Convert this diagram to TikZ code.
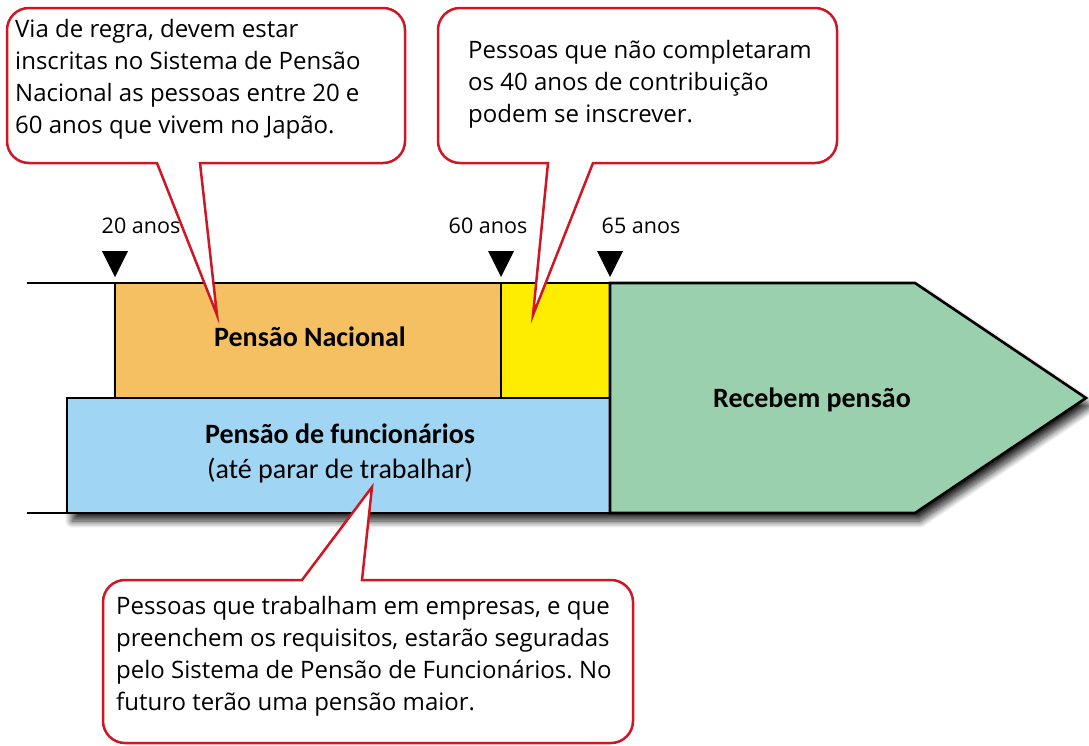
\documentclass[tikz,border=0pt]{standalone}
\usepackage{fontspec}
\setmainfont{Open Sans}
\newfontfamily\boxfont{Carlito}
\usetikzlibrary{shadows.blur}
\frenchspacing
\definecolor{cred}{RGB}{208,22,36}
\definecolor{corange}{RGB}{245,192,97}
\definecolor{cyellow}{RGB}{255,237,0}
\definecolor{cblue}{RGB}{160,214,243}
\definecolor{cgreen}{RGB}{154,208,173}
\begin{document}
\begin{tikzpicture}[x=1pt,y=-1pt,
  blk/.style={draw=black,line width=2.6pt},
  callout/.style={draw=cred,line width=2.5pt,fill=white,line join=miter},
  ctext/.style={anchor=base west,align=left,inner sep=0pt,font=\fontsize{24}{32}\selectfont},
  agetext/.style={font=\fontsize{21.5}{26}\selectfont,inner sep=0pt,anchor=base},
  boxtext/.style={font=\boxfont\fontsize{28}{35}\selectfont,align=center,inner sep=0pt},
  boxbold/.style={boxtext,font=\boxfont\bfseries\fontsize{28}{35}\selectfont},
  tri/.style={fill=black}]
\useasboundingbox (0,0) rectangle (1089,745);

% shadow of the whole band
\fill[white,blur shadow={shadow xshift=5pt,shadow yshift=-8pt,shadow blur steps=12,shadow blur radius=7pt,shadow opacity=85}]
  (115,283) -- (915,283) -- (1086,398) -- (915,513) -- (67,513) -- (67,398) -- (115,398) -- cycle;

% free lines on the left
\draw[line width=2.6pt] (27,283) -- (115,283);
\draw[line width=2.6pt] (27,513) -- (67,513);

% boxes
\draw[blk,fill=corange] (115,283) rectangle (501,398);
\draw[blk,fill=cyellow] (501,283) rectangle (610,398);
\draw[blk,fill=cblue] (67,398) rectangle (610,513);
\draw[blk,fill=cgreen,line join=miter] (610,283) -- (915,283) -- (1086,398) -- (915,513) -- (610,513) -- cycle;

\node[boxbold] (nac) at (310,337) {Pensão Nacional};
\node[boxtext] (func) at (340,453) {\textbf{Pensão de funcionários}\\(até parar de trabalhar)};
\node[boxbold] (rec) at (812,400) {Recebem pensão};

% age markers
\fill[tri] (102,251) -- (128,251) -- (115,277) -- cycle;
\fill[tri] (488,251) -- (514,251) -- (501,277) -- cycle;
\fill[tri] (597,251) -- (623,251) -- (610,277) -- cycle;
\node[agetext] (a20) at (141,233) {20 anos};
\node[agetext] (a60) at (488,233) {60 anos};
\node[agetext] (a65) at (641,233) {65 anos};

% callout 1
\draw[callout] (206,8) [rounded corners=22] -- (7,8) -- (7,163) -- (80,163) [sharp corners] -- (157,163)
  -- (217,315) -- (200,163) -- (300,163) [rounded corners=22] -- (405,163) -- (405,8) -- cycle;
\node[ctext] (t1) at (15,133) {Via de regra, devem estar\\inscritas no Sistema de Pensão\\Nacional as pessoas entre 20 e\\60 anos que vivem no Japão.};

% callout 2
\draw[callout] (637,8) [rounded corners=22] -- (438,8) -- (438,163) -- (500,163) [sharp corners] -- (548,163)
  -- (533,315) -- (593,163) -- (700,163) [rounded corners=22] -- (837,163) -- (837,8) -- cycle;
\node[ctext] (t2) at (468,122) {Pessoas que não completaram\\os 40 anos de contribuição\\podem se inscrever.};

% callout 3
\draw[callout] (368,743) [rounded corners=22] -- (103,743) -- (103,580) -- (200,580) [sharp corners] -- (302,580)
  -- (372,487) -- (362,580) -- (500,580) [rounded corners=22] -- (633,580) -- (633,743) -- cycle;
\node[ctext,font=\fontsize{24}{31.7}\selectfont] (t3) at (116,710) {Pessoas que trabalham em empresas, e que\\preenchem os requisitos, estarão seguradas\\pelo Sistema de Pensão de Funcionários. No\\futuro terão uma pensão maior.};
\end{tikzpicture}
\end{document}
